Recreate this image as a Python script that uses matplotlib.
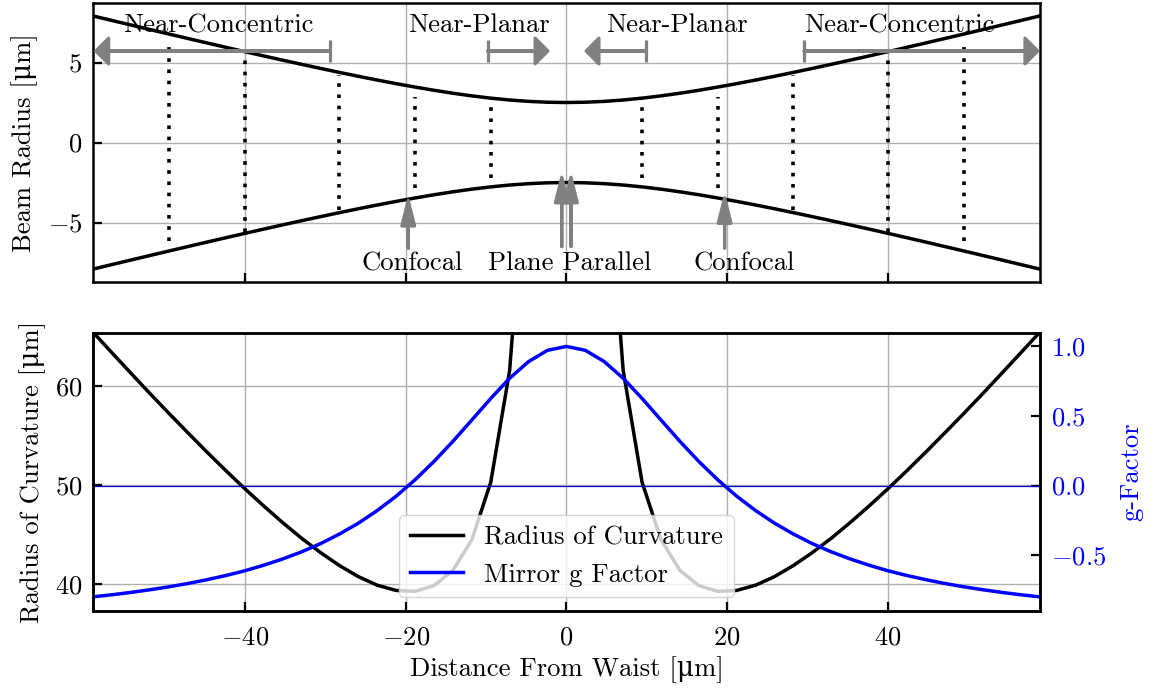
import numpy as np
import matplotlib
matplotlib.use("Agg")
import matplotlib.pyplot as plt

plt.rcParams["font.family"] = ["cmr10", "DejaVu Serif"]
plt.rcParams["mathtext.fontset"] = "cm"
plt.rcParams["axes.formatter.use_mathtext"] = True
plt.rcParams["font.size"] = 19.2
plt.rcParams["axes.linewidth"] = 1.8
plt.rcParams["xtick.direction"] = "in"
plt.rcParams["ytick.direction"] = "in"
plt.rcParams["xtick.major.size"] = 6.5
plt.rcParams["ytick.major.size"] = 6.5
plt.rcParams["xtick.major.width"] = 1.6
plt.rcParams["ytick.major.width"] = 1.6
plt.rcParams["grid.color"] = "#b0b0b0"
plt.rcParams["grid.linewidth"] = 1.0

# distance from waist, one sample every 0.12 zR out to 3 zR
z = [-58.91, -56.55, -54.19, -51.84, -49.48, -47.12, -44.77, -42.41, -40.06,
     -37.70, -35.34, -32.99, -30.63, -28.27, -25.92, -23.56, -21.21, -18.85,
     -16.49, -14.14, -11.78, -9.42, -7.07, -4.71, -2.36, 0.00, 2.36, 4.71,
     7.07, 9.42, 11.78, 14.14, 16.49, 18.85, 21.21, 23.56, 25.92, 28.27,
     30.63, 32.99, 35.34, 37.70, 40.06, 42.41, 44.77, 47.12, 49.48, 51.84,
     54.19, 56.55, 58.91]

# beam radius w(z)
w = [7.906, 7.622, 7.339, 7.058, 6.778, 6.500, 6.224, 5.951, 5.680, 5.412,
     5.148, 4.888, 4.633, 4.383, 4.140, 3.905, 3.680, 3.466, 3.265, 3.081,
     2.915, 2.773, 2.657, 2.571, 2.518, 2.500, 2.518, 2.571, 2.657, 2.773,
     2.915, 3.081, 3.265, 3.466, 3.680, 3.905, 4.140, 4.383, 4.633, 4.888,
     5.148, 5.412, 5.680, 5.951, 6.224, 6.500, 6.778, 7.058, 7.339, 7.622,
     7.906]

# |R(z)|, undefined at the waist
roc = [65.45, 63.37, 61.31, 59.27, 57.27, 55.31, 53.38, 51.50, 49.68, 47.93,
       46.25, 44.67, 43.22, 41.91, 40.79, 39.92, 39.39, 39.30, 39.87, 41.41,
       44.51, 50.33, 61.61, 86.52, 165.97, np.nan, 165.97, 86.52, 61.61,
       50.33, 44.51, 41.41, 39.87, 39.30, 39.39, 39.92, 40.79, 41.91, 43.22,
       44.67, 46.25, 47.93, 49.68, 51.50, 53.38, 55.31, 57.27, 59.27, 61.31,
       63.37, 65.45]

# g = 1 - L/R for a symmetric cavity with mirrors at +-z
g = [-0.800, -0.785, -0.768, -0.749, -0.728, -0.704, -0.677, -0.647, -0.613,
     -0.573, -0.528, -0.477, -0.418, -0.349, -0.271, -0.180, -0.077, 0.041,
     0.173, 0.317, 0.471, 0.626, 0.771, 0.891, 0.972, 1.000, 0.972, 0.891,
     0.771, 0.626, 0.471, 0.317, 0.173, 0.041, -0.077, -0.180, -0.271,
     -0.349, -0.418, -0.477, -0.528, -0.573, -0.613, -0.647, -0.677, -0.704,
     -0.728, -0.749, -0.768, -0.785, -0.800]

# example mirror planes (dotted)
mirror_z = [-49.48, -40.06, -28.27, -18.85, -9.42, 9.42, 18.85, 28.27, 40.06, 49.48]
mirror_h = [6.15, 5.6, 4.2, 2.85, 2.2, 2.2, 2.85, 4.2, 5.6, 6.15]

# regime labels: (text, x, y)
regions = [("Near-Concentric", -43.3, 6.9), ("Near-Planar", -10.95, 6.9),
           ("Near-Planar", 13.75, 6.9), ("Near-Concentric", 41.4, 6.9)]
# horizontal arrows: (bar x, tip x)
region_arrows = [(-29.5, -58.6), (-9.8, -2.3), (9.9, 2.45), (29.6, 58.7)]
arrow_y = 5.72

points = [("Confocal", -19.2, -7.98), ("Plane Parallel", 0.4, -7.98),
          ("Confocal", 22.1, -7.98)]
# vertical arrows: (x, tail y, tip y)
point_arrows = [(-19.7, -6.6, -3.62), (-0.58, -6.5, -2.17),
                (0.56, -6.5, -2.17), (19.7, -6.6, -3.45)]

unit = "[\u03bcm]"

fig = plt.figure(figsize=(11.55, 6.89), dpi=100)
ax = fig.add_axes([0.0808, 0.5911, 0.8192, 0.4041])
ax1 = fig.add_axes([0.0808, 0.1136, 0.8192, 0.4038])

# --- beam radius ---
z = np.array(z)
w = np.array(w)
ax.plot(z, w, color="k", lw=2.5)
ax.plot(z, -w, color="k", lw=2.5)
ax.vlines(mirror_z, -np.array(mirror_h), mirror_h, colors="k",
          linestyles=(0, (1, 2.1)), lw=2.6)

for bar_x, tip_x in region_arrows:
    ax.arrow(bar_x, arrow_y, tip_x - bar_x, 0, width=0.0, head_width=1.6,
             head_length=1.6, length_includes_head=True, color="gray",
             lw=2.3, joinstyle="round", zorder=4)
    ax.plot([bar_x, bar_x], [arrow_y - 0.68, arrow_y + 0.68], color="gray",
            lw=2.3, solid_capstyle="butt", zorder=4)
for txt, x, y in regions:
    ax.text(x, y, txt, ha="center", va="baseline")

for x, y0, y1 in point_arrows:
    ax.arrow(x, y0, 0, y1 - y0, width=0.0, head_width=1.6, head_length=1.6,
             length_includes_head=True, color="gray", lw=2.3,
             joinstyle="round", zorder=4)
for txt, x, y in points:
    ax.text(x, y, txt, ha="center", va="baseline")

ax.set_xlim(-58.91, 58.91)
ax.set_ylim(-8.70, 8.70)
ax.set_xticks([-40, -20, 0, 20, 40])
ax.set_yticks([-5, 0, 5])
ax.tick_params(labelbottom=False, pad=8)
ax.grid(True)
ax.set_axisbelow(True)
ax.set_ylabel("Beam Radius " + unit, labelpad=7)

# --- radius of curvature and g factor ---
ax1.plot(z, roc, color="k", lw=2.5, label="Radius of Curvature")
ax1.set_xlim(-58.91, 58.91)
ax1.set_ylim(37.34, 65.45)
ax1.set_xticks([-40, -20, 0, 20, 40])
ax1.set_yticks([40, 50, 60])
ax1.tick_params(axis="x", pad=11)
ax1.tick_params(axis="y", pad=8)
ax1.grid(True)
ax1.set_axisbelow(True)
ax1.set_xlabel("Distance From Waist " + unit, labelpad=5)
ax1.set_ylabel("Radius of Curvature " + unit, labelpad=6)

ax2 = ax1.twinx()
ax2.plot(z, g, color="blue", lw=2.5, label="Mirror g Factor")
ax2.axhline(0, color="mediumblue", lw=0.9)
ax2.set_ylim(-0.9, 1.1)
ax2.set_yticks([-0.5, 0.0, 0.5, 1.0])
ax2.tick_params(axis="y", labelcolor="blue", pad=8)
ax2.set_ylabel("g-Factor", color="blue", labelpad=10)

h1, l1 = ax1.get_legend_handles_labels()
h2, l2 = ax2.get_legend_handles_labels()
ax2.legend(h1 + h2, l1 + l2, loc="lower center")

fig.savefig("out.png", dpi=100)
